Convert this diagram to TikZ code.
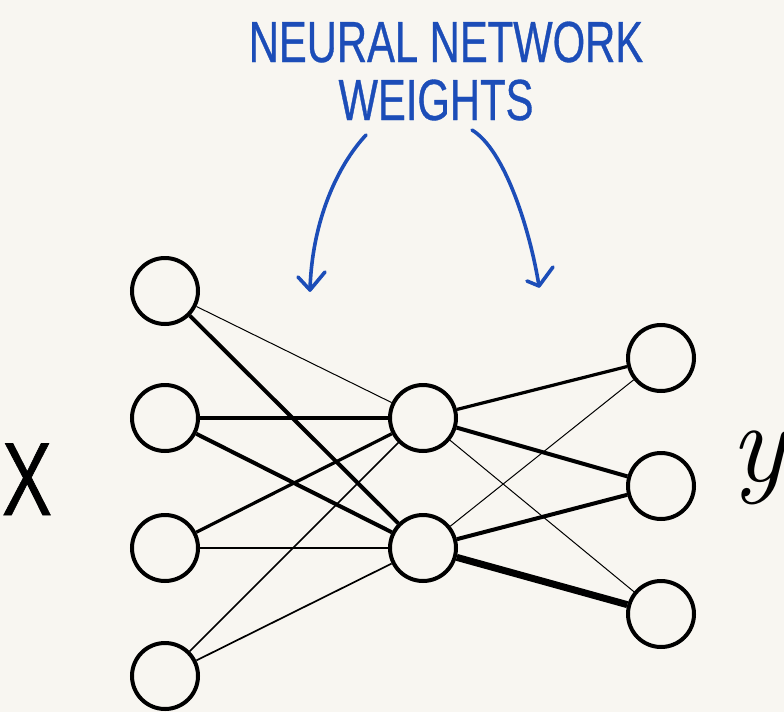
\documentclass[tikz,border=0pt]{standalone}
\usepackage{fontspec}
\newfontfamily\hand[FakeStretch=0.72,FakeBold=0.6]{Liberation Sans}
\definecolor{paper}{HTML}{F8F6F1}
\definecolor{pen}{HTML}{1C4DB8}
\begin{document}
\begin{tikzpicture}[x=1pt,y=-1pt,
  neuron/.style={circle,draw=black,line width=4pt,minimum size=66pt,inner sep=0pt,fill=paper},
  w1/.style={line width=1pt},
  w2/.style={line width=1.7pt},
  w3/.style={line width=3.2pt},
  w4/.style={line width=4pt},
  w7/.style={line width=7pt},
  bluepen/.style={draw=pen,line width=3.6pt,line cap=round,line join=round},
  handtext/.style={text=pen,font=\hand\fontsize{58}{60}\selectfont,inner sep=0pt,anchor=base}]
\fill[paper] (0,0) rectangle (784,712);
\useasboundingbox (0,0) rectangle (784,712);
% input layer
\node[neuron] (i1) at (165,291) {};
\node[neuron] (i2) at (165,418) {};
\node[neuron] (i3) at (165,548) {};
\node[neuron] (i4) at (165,676) {};
% hidden layer
\node[neuron] (h1) at (423,418) {};
\node[neuron] (h2) at (423,548) {};
% output layer
\node[neuron] (o1) at (661,358) {};
\node[neuron] (o2) at (661,486) {};
\node[neuron] (o3) at (661,614) {};
% weights input -> hidden
\draw[w1] (i1) -- (h1);
\draw[w4] (i1) -- (h2);
\draw[w4] (i2) -- (h1);
\draw[w4] (i2) -- (h2);
\draw[w3] (i3) -- (h1);
\draw[w2] (i3) -- (h2);
\draw[w2] (i4) -- (h1);
\draw[w2] (i4) -- (h2);
% weights hidden -> output
\draw[w3] (h1) -- (o1);
\draw[w4] (h1) -- (o2);
\draw[w1] (h1) -- (o3);
\draw[w1] (h2) -- (o1);
\draw[w4] (h2) -- (o2);
\draw[w7] (h2) -- (o3);
% labels
\node[handtext] (t1) at (446,62) {NEURAL NETWORK};
\node[handtext] (t2) at (436,120) {WEIGHTS};
\node[font=\hand\fontsize{104}{104}\selectfont,inner sep=0pt,anchor=base] (xl) at (27,515) {X};
\node[font=\fontsize{115}{115}\selectfont\itshape,inner sep=0pt,anchor=base] (yl) at (758,481) {y};
% arrows
\coordinate (la0) at (366,135);
\coordinate (la1) at (310,290);
\coordinate (lb1) at (298,277);
\coordinate (lb2) at (325,272);
\coordinate (ra0) at (472,130);
\coordinate (ra1) at (539,286);
\coordinate (rb1) at (527,281);
\coordinate (rb2) at (553,267);
\draw[bluepen] (la0) .. controls (338,165) and (312,220) .. (la1);
\draw[bluepen] (lb1) -- (la1) -- (lb2);
\draw[bluepen] (ra0) .. controls (505,150) and (530,230) .. (ra1);
\draw[bluepen] (rb1) -- (ra1) -- (rb2);
\end{tikzpicture}
\end{document}
